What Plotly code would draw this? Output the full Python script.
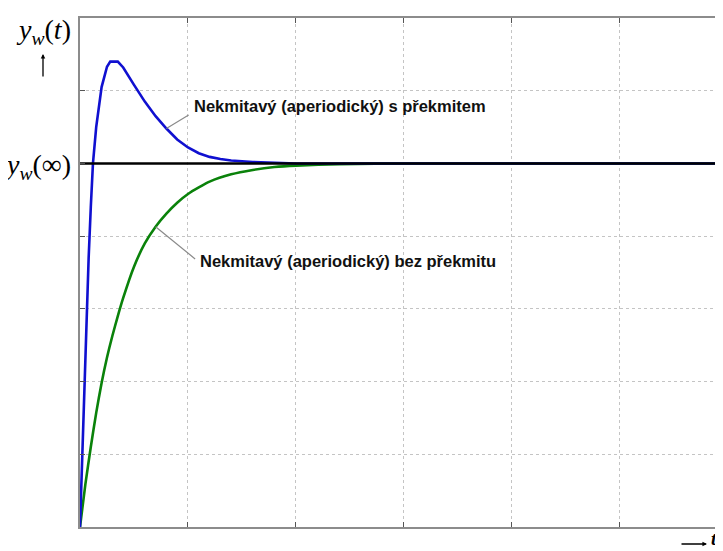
import plotly.graph_objects as go

# --- data ---
t_blue = [0, 0.02, 0.04, 0.06, 0.08, 0.10, 0.12, 0.15, 0.20, 0.25, 0.28, 0.35, 0.40, 0.50,
          0.60, 0.70, 0.80, 0.90, 1.00, 1.10, 1.20, 1.30, 1.40, 1.60, 1.80, 2.00, 6.0]
y_blue = [0, 1.0, 2.0, 2.9, 3.7, 4.4, 5.0, 5.5, 6.05, 6.33, 6.4, 6.4, 6.32, 6.08,
          5.85, 5.65, 5.48, 5.33, 5.22, 5.14, 5.09, 5.06, 5.04, 5.02, 5.01, 5.0, 5.0]

t_green = [0, 0.05, 0.10, 0.15, 0.20, 0.25, 0.30, 0.35, 0.40, 0.50, 0.60, 0.70, 0.80,
           0.90, 1.00, 1.10, 1.20, 1.40, 1.60, 1.80, 2.00, 2.40, 3.00, 6.0]
y_green = [0, 0.59, 1.1, 1.57, 1.98, 2.33, 2.63, 2.9, 3.15, 3.58, 3.9, 4.13, 4.31,
           4.46, 4.58, 4.67, 4.75, 4.85, 4.91, 4.95, 4.97, 4.99, 5.0, 5.0]

y_inf = 5.0
x_max = 5.954
y_max = 7
label_blue = "Nekmitavý (aperiodický) s překmitem"
label_green = "Nekmitavý (aperiodický) bez překmitu"

# page geometry (pixels); the page body has an 8px default margin
OFF = 8
PAGE_W, PAGE_H = 723, 551
W, H = PAGE_W - OFF, PAGE_H - OFF
PL, PR, PT, PB = 80, 723, 18, 527          # plot area in page pixels
L, T = PL - OFF, PT - OFF
R, B = (OFF + W) - PR, (OFF + H) - PB
PW, PH = PR - PL, PB - PT


def px(xp):
    return (xp - PL) / PW


def py(yp):
    return (PB - yp) / PH


fig = go.Figure()
fig.add_trace(go.Scatter(x=t_green, y=y_green, mode="lines", line_shape="spline",
                         line=dict(color="#0a820a", width=2.6, smoothing=0.6), hoverinfo="skip"))
fig.add_trace(go.Scatter(x=t_blue, y=y_blue, mode="lines",
                         line=dict(color="#1010d0", width=2.6), hoverinfo="skip"))
fig.add_trace(go.Scatter(x=[0, x_max], y=[y_inf, y_inf], mode="lines",
                         line=dict(color="black", width=2.6), hoverinfo="skip"))

serif = "Liberation Serif, Times New Roman, serif"
sans = "Liberation Sans, Arial, sans-serif"
annots = []
# leader lines
annots.append(dict(x=t_blue[16], y=y_blue[16], xref="x", yref="y", text="",
                   showarrow=True, arrowhead=0, arrowwidth=1.2, arrowcolor="#8a8a8a",
                   ax=1.02, ay=5.68, axref="x", ayref="y"))
annots.append(dict(x=t_green[11], y=y_green[11], xref="x", yref="y", text="",
                   showarrow=True, arrowhead=0, arrowwidth=1.2, arrowcolor="#8a8a8a",
                   ax=1.08, ay=3.67, axref="x", ayref="y"))
# curve labels
annots.append(dict(x=1.035, y=5.79, xref="x", yref="y", text="<b>" + label_blue + "</b>",
                   showarrow=False, xanchor="left", yanchor="middle",
                   font=dict(family=sans, size=16.5, color="#111111")))
annots.append(dict(x=1.09, y=3.655, xref="x", yref="y", text="<b>" + label_green + "</b>",
                   showarrow=False, xanchor="left", yanchor="middle",
                   font=dict(family=sans, size=16.5, color="#111111")))
# axis labels outside
annots.append(dict(x=px(73), y=py(31), xref="paper", yref="paper",
                   text="<i>y</i><sub><i>w</i></sub>(<i>t</i>)", showarrow=False,
                   xanchor="right", yanchor="middle",
                   font=dict(family=serif, size=28, color="black")))
annots.append(dict(x=px(73), y=py(166), xref="paper", yref="paper",
                   text="<i>y</i><sub><i>w</i></sub>(∞)", showarrow=False,
                   xanchor="right", yanchor="middle",
                   font=dict(family=serif, size=28, color="black")))
annots.append(dict(x=px(43), y=py(54), xref="paper", yref="paper", text="",
                   showarrow=True, arrowhead=2, arrowsize=0.7, arrowwidth=1.3,
                   arrowcolor="black", ax=0, ay=24))
annots.append(dict(x=px(707), y=py(544), xref="paper", yref="paper", text="",
                   showarrow=True, arrowhead=2, arrowsize=0.7, arrowwidth=1.3,
                   arrowcolor="black", ax=-27, ay=0))
annots.append(dict(x=px(709), y=py(538), xref="paper", yref="paper",
                   text="<b><i>t</i></b>", showarrow=False,
                   xanchor="left", yanchor="middle",
                   font=dict(family=serif, size=19, color="black")))

fig.update_layout(
    width=W, height=H,
    margin=dict(l=L, r=R, t=T, b=B, pad=0),
    paper_bgcolor="white", plot_bgcolor="white",
    showlegend=False,
    annotations=annots,
    xaxis=dict(range=[0, x_max], dtick=1, tick0=0, showticklabels=False,
               showgrid=True, gridcolor="#c4c4c4", griddash="dot", gridwidth=1,
               zeroline=False, showline=True, linecolor="#8c8c8c", linewidth=2,
               mirror="ticks", ticks="inside", ticklen=5, tickcolor="#555555", tickwidth=1),
    yaxis=dict(range=[0, y_max], dtick=1, tick0=0, showticklabels=False,
               showgrid=True, gridcolor="#c4c4c4", griddash="dot", gridwidth=1,
               zeroline=False, showline=True, linecolor="#8c8c8c", linewidth=1.5,
               ticks="inside", ticklen=5, tickcolor="#555555", tickwidth=1),
)

fig.write_html("out.html")
